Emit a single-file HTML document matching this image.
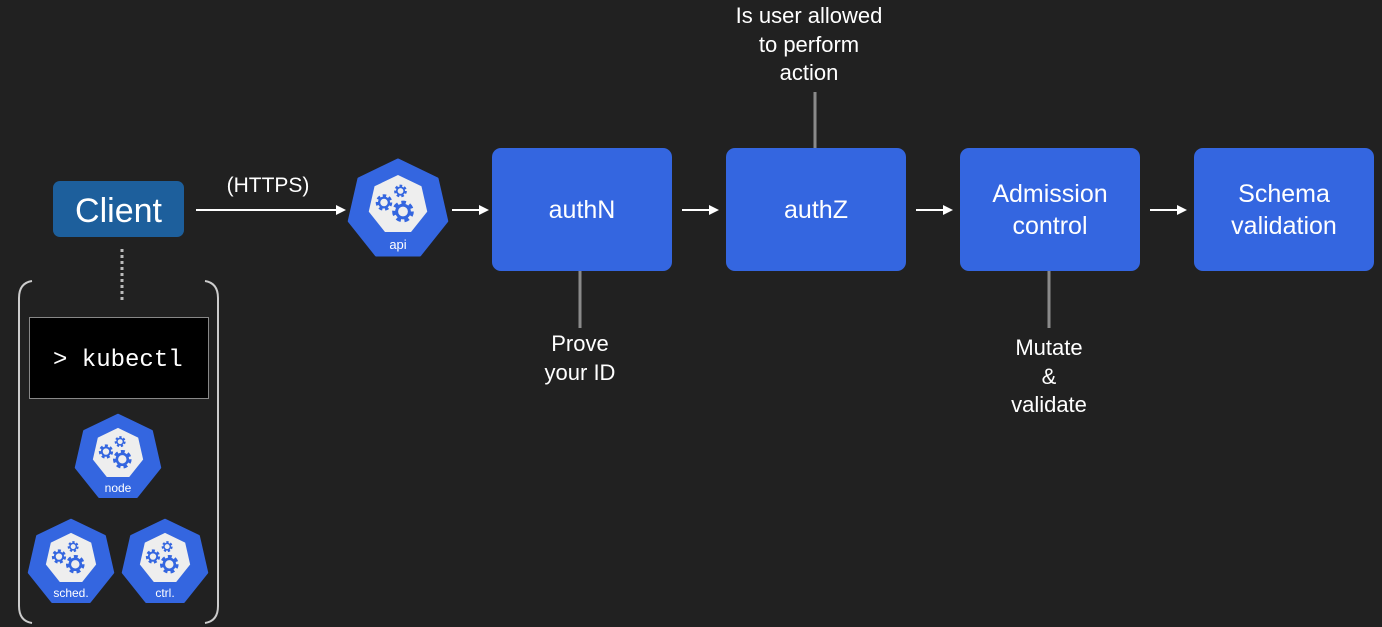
<!DOCTYPE html>
<html><head><style>
html,body{margin:0;padding:0;background:#212121;}
svg{display:block}
text{font-family:"Liberation Sans",sans-serif;fill:#fff}
</style></head><body>
<svg width="1382" height="627" viewBox="0 0 1382 627" xmlns="http://www.w3.org/2000/svg">
<defs>
<polygon id="hep" points="0,-1 0.7818,-0.6235 0.9749,0.2225 0.4339,0.901 -0.4339,0.901 -0.9749,0.2225 -0.7818,-0.6235"/>
<g id="gear">
  <circle r="1" fill="none" stroke="#3466e0" stroke-width="0.55" stroke-dasharray="0.5 0.4"/>
  <circle r="0.75" fill="none" stroke="#3466e0" stroke-width="0.35"/>
</g>
<g id="icon">
  <use href="#hep" fill="#3466e0" stroke="#3466e0" stroke-width="0.06" stroke-linejoin="round"/>
  <use href="#hep" fill="#eeeeee" transform="translate(0,-0.1) scale(0.6)"/>
  <use href="#gear" transform="translate(-0.28,-0.15) scale(0.13)"/>
  <use href="#gear" transform="translate(0.05,-0.38) scale(0.1)"/>
  <use href="#gear" transform="translate(0.1,0.03) scale(0.17)"/>
</g>
</defs>
<rect width="1382" height="627" fill="#212121"/>

<!-- client -->
<rect x="53" y="181" width="131" height="56" rx="7" fill="#1d5f9c"/>
<text x="118.5" y="222" font-size="34" text-anchor="middle">Client</text>
<line x1="122" y1="249" x2="122" y2="302" stroke="#bbb" stroke-width="3" stroke-dasharray="3 3"/>
<path d="M32,281 Q19,283 19,298 L19,606 Q19,621 32,623" fill="none" stroke="#ccc" stroke-width="2"/>
<path d="M205,281 Q218,283 218,298 L218,606 Q218,621 205,623" fill="none" stroke="#ccc" stroke-width="2"/>
<rect x="29.5" y="317.5" width="179" height="81" fill="#000" stroke="#888" stroke-width="1"/>
<text x="53" y="366" font-size="24" style="font-family:'Liberation Mono',monospace">&gt; kubectl</text>

<use href="#icon" transform="translate(118,458) scale(43)"/>
<text x="118" y="492" font-size="12" text-anchor="middle" fill="#eee">node</text>
<use href="#icon" transform="translate(71,563) scale(43)"/>
<text x="71" y="597" font-size="12" text-anchor="middle">sched.</text>
<use href="#icon" transform="translate(165,563) scale(43)"/>
<text x="165" y="597" font-size="12" text-anchor="middle">ctrl.</text>

<text x="268" y="192" font-size="21" text-anchor="middle">(HTTPS)</text>
<line x1="196" y1="210" x2="337" y2="210" stroke="#fff" stroke-width="2"/>
<polygon points="346,210 336,205 336,215" fill="#fff"/>

<use href="#icon" transform="translate(398,210) scale(50)"/>
<text x="398" y="249" font-size="13" text-anchor="middle">api</text>

<g stroke="#fff" stroke-width="2">
<line x1="452" y1="210" x2="480" y2="210"/>
<line x1="682" y1="210" x2="710" y2="210"/>
<line x1="916" y1="210" x2="944" y2="210"/>
<line x1="1150" y1="210" x2="1178" y2="210"/>
</g>
<g fill="#fff">
<polygon points="489,210 479,205 479,215"/>
<polygon points="719,210 709,205 709,215"/>
<polygon points="953,210 943,205 943,215"/>
<polygon points="1187,210 1177,205 1177,215"/>
</g>

<g stroke="#8a8a8a" stroke-width="3">
<line x1="580" y1="271" x2="580" y2="328"/>
<line x1="815" y1="92" x2="815" y2="148"/>
<line x1="1049" y1="271" x2="1049" y2="328"/>
</g>

<g fill="#3466e0">
<rect x="492" y="148" width="180" height="123" rx="9"/>
<rect x="726" y="148" width="180" height="123" rx="9"/>
<rect x="960" y="148" width="180" height="123" rx="9"/>
<rect x="1194" y="148" width="180" height="123" rx="9"/>
</g>
<g font-size="25" text-anchor="middle">
<text x="582" y="218">authN</text>
<text x="816" y="218">authZ</text>
<text x="1050" y="202">Admission</text>
<text x="1050" y="234">control</text>
<text x="1284" y="202">Schema</text>
<text x="1284" y="234">validation</text>
</g>
<g font-size="22" text-anchor="middle" fill="#eee">
<text x="809" y="23">Is user allowed</text>
<text x="809" y="52">to perform</text>
<text x="809" y="80">action</text>
<text x="580" y="351">Prove</text>
<text x="580" y="380">your ID</text>
<text x="1049" y="355">Mutate</text>
<text x="1049" y="384">&amp;</text>
<text x="1049" y="412">validate</text>
</g>
</svg>
</body></html>
